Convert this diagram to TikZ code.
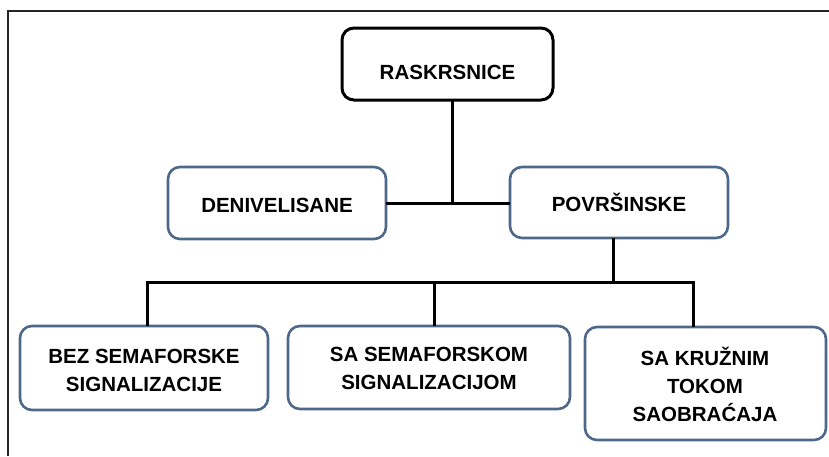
\documentclass[tikz,border=0pt]{standalone}
\usepackage{fontspec}
\setmainfont{Liberation Sans}
\definecolor{boxblue}{RGB}{78,104,138}
\begin{document}
\begin{tikzpicture}[x=1pt,y=-1pt,
  frame/.style={line width=2pt,draw=black!85},
  topbox/.style={draw=black,line width=3pt,rounded corners=12pt,fill=white},
  bluebox/.style={draw=boxblue,line width=2.6pt,rounded corners=12pt,fill=white},
  lbl/.style={font=\bfseries\fontsize{20.5}{28}\selectfont,align=center,inner sep=0pt},
  link/.style={line width=3pt,draw=black}]
\useasboundingbox (0,0) rectangle (829,456);
\draw[frame] (8,456) -- (8,11) -- (829,11);
% boxes
\draw[topbox] (342,28) rectangle (553,100);
\node[lbl] (root) at (447.5,72) {RASKRSNICE};
\coordinate (rootB) at (452,100);
\draw[bluebox] (168,167) rectangle (386,239);
\node[lbl] (den) at (277,205) {DENIVELISANE};
\coordinate (denR) at (386,203);
\draw[bluebox] (510,167) rectangle (728,238);
\node[lbl] (pov) at (619,202) {POVRŠINSKE};
\coordinate (povL) at (510,203);
\coordinate (povB) at (613,238);
\draw[bluebox] (20,326) rectangle (268,410);
\node[lbl] (bez) at (144,370) {BEZ SEMAFORSKE\\SIGNALIZACIJE};
\draw[bluebox] (288,326) rectangle (570,409);
\node[lbl] (sa) at (429,368) {SA SEMAFORSKOM\\SIGNALIZACIJOM};
\draw[bluebox] (585,327) rectangle (826,440);
\node[lbl] (kru) at (705,384) {SA KRUŽNIM\\TOKOM\\SAOBRAĆAJA};
\coordinate (bezT) at (147,326);
\coordinate (saT) at (434,326);
\coordinate (kruT) at (693,327);
% connectors
\draw[link] (denR) -- (povL);
\draw[link] (rootB) -- (452,203);
\draw[link] (povB) -- (613,282);
\draw[link] (bezT) -- (147,282) -- (693,282) -- (kruT);
\draw[link] (saT) -- (434,282);
\end{tikzpicture}
\end{document}
